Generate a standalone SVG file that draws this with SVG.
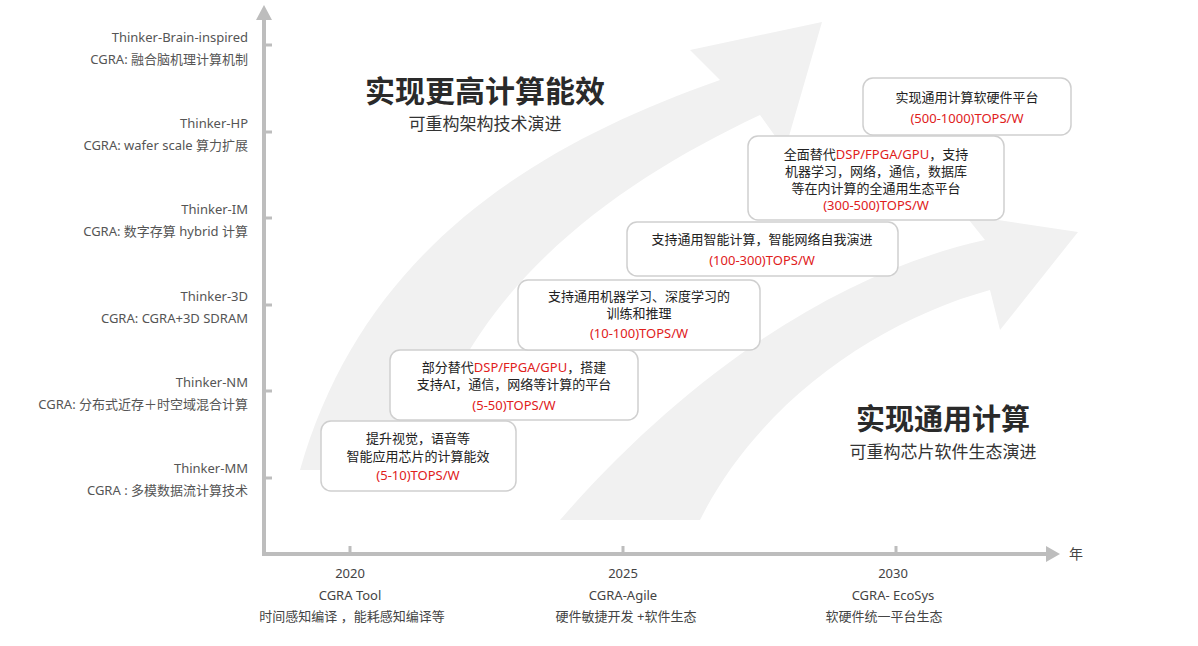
<svg xmlns="http://www.w3.org/2000/svg" width="1198" height="646" viewBox="0 0 1198 646">
<defs>
<style>
.lbl{font-family:"Noto Sans","Noto Sans CJK SC",sans-serif;font-size:13px;fill:#555;text-anchor:end}
.bx{fill:#fff;stroke:#cfcfcf;stroke-width:1.5}
.bt{font-family:"Noto Sans","Noto Sans CJK SC",sans-serif;font-size:13px;fill:#222;text-anchor:middle}
.red{fill:#e0201b}
.yr{font-family:"Noto Sans","Noto Sans CJK SC",sans-serif;font-size:13px;fill:#444;text-anchor:middle}
.ax{stroke:#bdbdbd;stroke-width:4;fill:none}
.tk{stroke:#bdbdbd;stroke-width:3}
.h1{font-family:"Noto Sans CJK SC",sans-serif;font-weight:bold;fill:#2a2a2a;text-anchor:middle}
.h2{font-family:"Noto Sans CJK SC",sans-serif;fill:#333;text-anchor:middle}
</style>
</defs>
<rect width="1198" height="646" fill="#fff"/>
<g id="background" fill="#f1f1f1">
<path d="M300 470 C360 260 520 150 720 80 L690 50 L822 22 L785 150 L760 115 C600 190 460 300 420 470 Z"/>
<path d="M560 520 C700 360 850 270 985 240 L965 215 L1078 232 L1000 330 L990 290 C880 320 760 400 700 520 Z"/>
</g>
<g id="axes">
<path class="ax" d="M264 556 V18 M262 554 H1048"/>
<polygon points="264,5 256,20 272,20" fill="#bdbdbd"/>
<polygon points="1060,554 1046,546 1046,562" fill="#bdbdbd"/>
<path class="tk" d="M264 45 H272 M264 132 H272 M264 218 H272 M264 305 H272 M264 391 H272 M264 478 H272 M350 554 V546 M623 554 V546 M896 554 V546"/>
<text x="1076" y="559" class="yr" style="font-size:14px">年</text>
</g>
<g id="ylabels">
<text class="lbl" x="248" y="42">Thinker-Brain-inspired</text>
<text class="lbl" x="248" y="64">CGRA:  融合脑机理计算机制</text>
<text class="lbl" x="248" y="128">Thinker-HP</text>
<text class="lbl" x="248" y="150">CGRA:  wafer scale 算力扩展</text>
<text class="lbl" x="248" y="214">Thinker-IM</text>
<text class="lbl" x="248" y="236">CGRA:  数字存算  hybrid 计算</text>
<text class="lbl" x="248" y="301">Thinker-3D</text>
<text class="lbl" x="248" y="323">CGRA: CGRA+3D SDRAM</text>
<text class="lbl" x="248" y="387">Thinker-NM</text>
<text class="lbl" x="248" y="409">CGRA:  分布式近存＋时空域混合计算</text>
<text class="lbl" x="248" y="473">Thinker-MM</text>
<text class="lbl" x="248" y="495">CGRA : 多模数据流计算技术</text>
</g>
<g id="titles">
<text class="h1" x="485" y="102" font-size="30">实现更高计算能效</text>
<text class="h2" x="485" y="130" font-size="17">可重构架构技术演进</text>
<text class="h1" x="943" y="430" font-size="29">实现通用计算</text>
<text class="h2" x="943" y="458" font-size="17">可重构芯片软件生态演进</text>
</g>
<g id="box1"><rect class="bx" x="321" y="421" width="195" height="70" rx="10"/>
<text class="bt" x="418" y="443">提升视觉，语音等</text><text class="bt" x="418" y="461">智能应用芯片的计算能效</text><text class="bt red" x="418" y="480">(5-10)TOPS/W</text></g>
<g id="box2"><rect class="bx" x="390" y="350" width="248" height="70" rx="10"/>
<text class="bt" x="514" y="372">部分替代<tspan class="red">DSP/FPGA/GPU</tspan>，搭建</text><text class="bt" x="514" y="389">支持AI，通信，网络等计算的平台</text><text class="bt red" x="514" y="410">(5-50)TOPS/W</text></g>
<g id="box3"><rect class="bx" x="518" y="280" width="242" height="70" rx="10"/>
<text class="bt" x="639" y="301">支持通用机器学习、深度学习的</text><text class="bt" x="639" y="318">训练和推理</text><text class="bt red" x="639" y="338">(10-100)TOPS/W</text></g>
<g id="box4"><rect class="bx" x="627" y="222" width="271" height="54" rx="10"/>
<text class="bt" x="762" y="244">支持通用智能计算，智能网络自我演进</text><text class="bt red" x="762" y="265">(100-300)TOPS/W</text></g>
<g id="box5"><rect class="bx" x="748" y="136" width="256" height="84" rx="10"/>
<text class="bt" x="876" y="159">全面替代<tspan class="red">DSP/FPGA/GPU</tspan>，支持</text><text class="bt" x="876" y="176">机器学习，网络，通信，数据库</text><text class="bt" x="876" y="193">等在内计算的全通用生态平台</text><text class="bt red" x="876" y="210">(300-500)TOPS/W</text></g>
<g id="box6"><rect class="bx" x="863" y="78" width="208" height="57" rx="10"/>
<text class="bt" x="967" y="102">实现通用计算软硬件平台</text><text class="bt red" x="967" y="123">(500-1000)TOPS/W</text></g>
<g id="xlabels">
<text class="yr" x="350" y="578">2020</text><text class="yr" x="350" y="600">CGRA Tool</text><text class="yr" x="352" y="621">时间感知编译  ，能耗感知编译等</text>
<text class="yr" x="623" y="578">2025</text><text class="yr" x="623" y="600">CGRA-Agile</text><text class="yr" x="626" y="621">硬件敏捷开发  +软件生态</text>
<text class="yr" x="893" y="578">2030</text><text class="yr" x="893" y="600">CGRA-  EcoSys</text><text class="yr" x="884" y="621">软硬件统一平台生态</text>
</g>
</svg>
